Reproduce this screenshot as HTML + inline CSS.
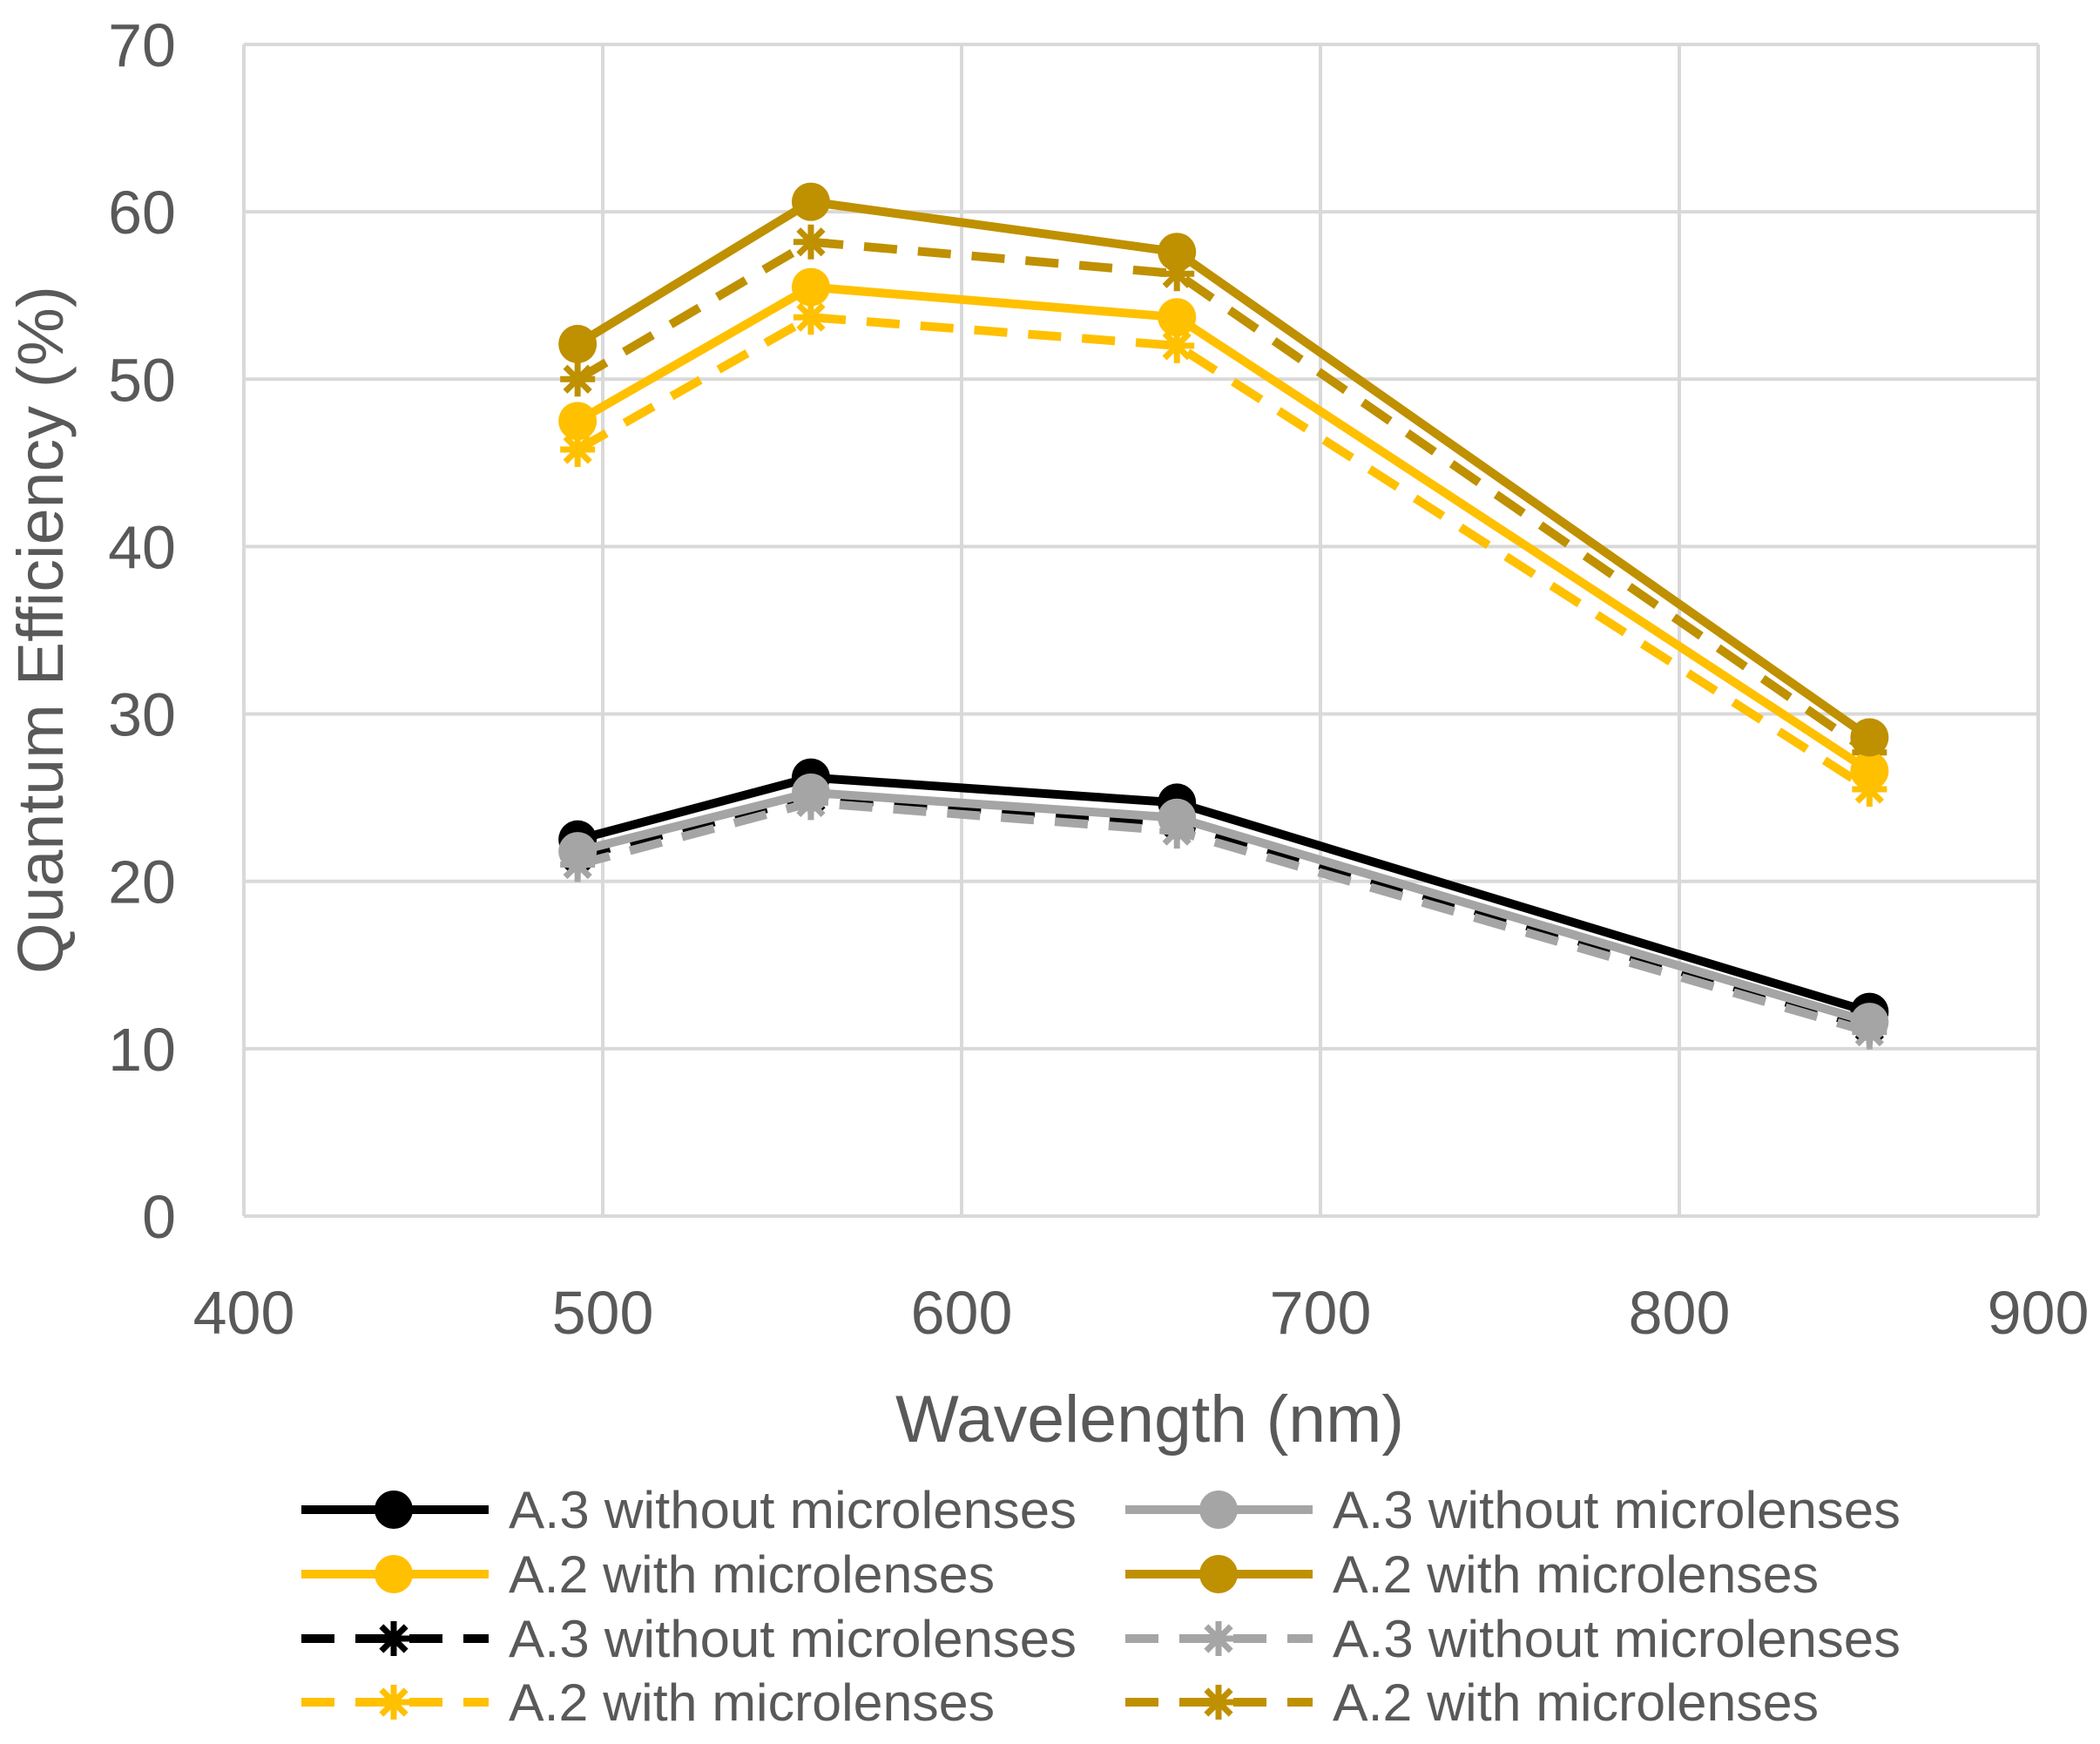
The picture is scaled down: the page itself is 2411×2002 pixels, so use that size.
<!DOCTYPE html>
<html><head><meta charset="utf-8"><style>
body{margin:0;background:#fff;}
svg{display:block;font-family:"Liberation Sans",sans-serif;}
</style></head><body>
<svg id="chart" width="2411" height="2002" viewBox="0 0 2411 2002" xmlns="http://www.w3.org/2000/svg">
<g id="grid"></g>
<g id="axes"></g>
<g id="series"></g>
<g id="legend"></g>
<text transform="translate(72,723) rotate(-90)" text-anchor="middle" font-size="74" fill="#595959" textLength="790" lengthAdjust="spacingAndGlyphs">Quantum Efficiency (%)</text>
<text x="1320" y="1655" text-anchor="middle" font-size="76" fill="#595959" textLength="584" lengthAdjust="spacingAndGlyphs">Wavelength (nm)</text>
</svg>
<script>
const wavelengths = [493, 558, 660, 853];
const xTicks = [400, 500, 600, 700, 800, 900];
const yTicks = [0, 10, 20, 30, 40, 50, 60, 70];
const a3SolidBlack = [22.5, 26.2, 24.7, 12.2];
const a3SolidGray = [21.8, 25.3, 23.8, 11.6];
const a2SolidYellow = [47.5, 55.5, 53.7, 26.6];
const a2SolidGold = [52.1, 60.6, 57.6, 28.6];
const a3DashBlack = [21.5, 25.0, 23.5, 11.3];
const a3DashGray = [21.0, 24.7, 23.0, 11.0];
const a2DashYellow = [45.8, 53.7, 52.0, 25.5];
const a2DashGold = [50.0, 58.2, 56.3, 27.7];
const seriesNames = ["A.3 without microlenses","A.3 without microlenses","A.2 with microlenses","A.2 with microlenses","A.3 without microlenses","A.3 without microlenses","A.2 with microlenses","A.2 with microlenses"];

const NS="http://www.w3.org/2000/svg";
const X0=280,X1=2340,Y0=1396,Y1=51;
const xs=v=>X0+(v-400)/500*(X1-X0);
const ys=v=>Y0-(v/70)*(Y0-Y1);
function mk(tag,attrs,parent){const e=document.createElementNS(NS,tag);for(const k in attrs)e.setAttribute(k,attrs[k]);parent.appendChild(e);return e;}
const grid=document.getElementById('grid'),axes=document.getElementById('axes'),ser=document.getElementById('series'),leg=document.getElementById('legend');
yTicks.forEach(t=>{
 const l=mk('line',{x1:X0,x2:X1,y1:ys(t),y2:ys(t),stroke:'#d9d9d9','stroke-width':4},grid);
 
 
 const tx=mk('text',{x:202,y:ys(t)+25,'text-anchor':'end','font-size':70,fill:'#595959'},axes);
 tx.textContent=t;
 
 
});
xTicks.forEach(t=>{
 const l=mk('line',{x1:xs(t),x2:xs(t),y1:Y1,y2:Y0,stroke:'#d9d9d9','stroke-width':4},grid);
 
 
 const tx=mk('text',{x:xs(t),y:1531,'text-anchor':'middle','font-size':70,fill:'#595959'},axes);
 tx.textContent=t;
 
 
});
const series=[
 {d:a3SolidBlack,c:'#000000',dash:false},
 {d:a3SolidGray,c:'#a5a5a5',dash:false},
 {d:a2SolidYellow,c:'#ffc000',dash:false},
 {d:a2SolidGold,c:'#bf9000',dash:false},
 {d:a3DashBlack,c:'#000000',dash:true},
 {d:a3DashGray,c:'#a5a5a5',dash:true},
 {d:a2DashYellow,c:'#ffc000',dash:true},
 {d:a2DashGold,c:'#bf9000',dash:true}];
function star(g,x,y,c){
 for(let a=0;a<4;a++){const ang=a*Math.PI/4,r=20;
  mk('line',{x1:x-r*Math.cos(ang),y1:y-r*Math.sin(ang),x2:x+r*Math.cos(ang),y2:y+r*Math.sin(ang),stroke:c,'stroke-width':7},g);}
}
function marker(g,x,y,s){ if(s.dash) star(g,x,y,s.c); else mk('circle',{cx:x,cy:y,r:22,fill:s.c},g); }
const order=[4,5,6,7,0,1,2,3];
order.forEach(i=>{const s=series[i];
 const g=mk('g',{},ser);
 
 
 const pts=s.d.map((v,j)=>xs(wavelengths[j])+','+ys(v)).join(' ');
 const pl=mk('polyline',{points:pts,fill:'none',stroke:s.c,'stroke-width':10,'stroke-linejoin':'round'},g);
 if(s.dash)pl.setAttribute('stroke-dasharray','38,24');
 s.d.forEach((v,j)=>marker(g,xs(wavelengths[j]),ys(v),s));
});
const rowsY=[1733,1807,1881,1954];
series.forEach((s,i)=>{
 const col=i%2,row=Math.floor(i/2);
 const lx=col?1292:346,mx=col?1399:452,tx=col?1530:584,y=rowsY[row];
 const g=mk('g',{},leg);
 
 
 const l=mk('line',{x1:lx,x2:lx+215,y1:y,y2:y,stroke:s.c,'stroke-width':10},g);
 if(s.dash)l.setAttribute('stroke-dasharray','38,24');
 marker(g,mx,y,s);
 const w=seriesNames[i].indexOf('without')>=0?652:558;
 const t=mk('text',{x:tx,y:y+21,'font-size':60,fill:'#595959',textLength:w,lengthAdjust:'spacingAndGlyphs'},g);
 t.textContent=seriesNames[i];
});
</script>
</body></html>
